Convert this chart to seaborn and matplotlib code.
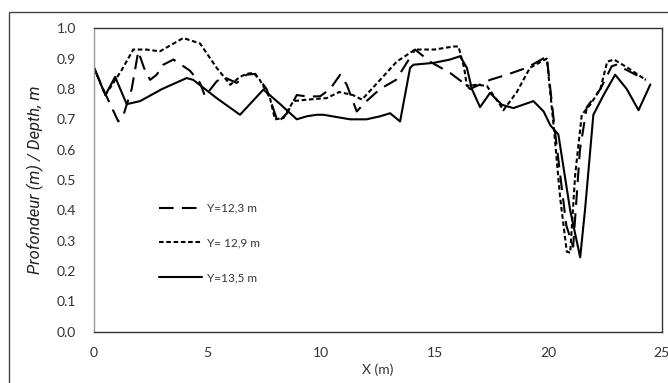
import matplotlib
matplotlib.use("Agg")
import matplotlib.pyplot as plt
import matplotlib.patches as mpatches
import seaborn as sns
import pandas as pd

# Y = 12,3 m (long dashes)
x_123 = [0, 0.48, 1.07, 1.3, 1.66, 1.95, 2.2, 2.47, 2.76, 3.05, 3.5, 4.23, 4.67, 4.89, 5.4, 5.7,
         6.28, 6.72, 7.1, 7.6, 8.1, 8.5, 8.93, 9.4, 9.96, 10.4, 10.84, 11.13, 11.57, 12.0, 12.6,
         13.3, 14.14, 14.8, 15.68, 16.27, 16.56, 17.44, 18.18, 19.06, 19.94, 20.3, 20.8, 21.1,
         21.4, 21.7, 22.3, 22.8, 23.0, 24.3]
y_123 = [0.87, 0.787, 0.693, 0.715, 0.80, 0.924, 0.87, 0.83, 0.847, 0.88, 0.897, 0.86, 0.82, 0.776,
         0.825, 0.84, 0.82, 0.847, 0.85, 0.80, 0.69, 0.72, 0.78, 0.775, 0.776, 0.80, 0.847, 0.814,
         0.726, 0.76, 0.80, 0.83, 0.93, 0.89, 0.853, 0.82, 0.80, 0.83, 0.847, 0.87, 0.907, 0.66,
         0.35, 0.28, 0.6, 0.74, 0.80, 0.875, 0.88, 0.83]

# Y = 12,9 m (short dashes)
x_129 = [0, 0.5, 1.2, 1.73, 2.3, 2.9, 3.93, 4.67, 5.4, 6.0, 6.43, 6.72, 7.02, 7.3, 7.75, 7.97,
         8.34, 8.78, 9.4, 10.25, 10.8, 11.4, 11.8, 12.6, 13.33, 14.14, 15.0, 15.83, 16.05, 16.3,
         16.42, 16.86, 17.3, 17.88, 18.03, 18.62, 19.2, 19.94, 20.24, 20.53, 20.82, 20.97, 21.19,
         21.48, 21.85, 22.3, 22.6, 22.9, 23.5, 24.3]
y_129 = [0.87, 0.78, 0.86, 0.93, 0.93, 0.924, 0.968, 0.95, 0.87, 0.814, 0.84, 0.85, 0.853, 0.83,
         0.77, 0.70, 0.704, 0.76, 0.765, 0.77, 0.79, 0.78, 0.765, 0.83, 0.89, 0.93, 0.93, 0.94,
         0.94, 0.87, 0.81, 0.814, 0.81, 0.748, 0.73, 0.79, 0.87, 0.90, 0.68, 0.44, 0.264, 0.26,
         0.517, 0.715, 0.748, 0.80, 0.89, 0.897, 0.87, 0.83]

# Y = 13,5 m (solid)
x_135 = [0, 0.5, 0.93, 1.44, 2.03, 3.0, 4.08, 4.37, 5.4, 6.43, 7.46, 8.2, 8.93, 9.37, 9.81, 10.1,
         11.28, 12.0, 12.6, 13.04, 13.48, 13.92, 14.07, 14.95, 15.68, 16.12, 16.42, 16.64, 17.0,
         17.44, 17.96, 18.47, 19.35, 19.8, 20.1, 20.45, 20.97, 21.41, 21.63, 21.99, 22.44, 22.95,
         23.46, 23.98, 24.5]
y_135 = [0.87, 0.78, 0.84, 0.75, 0.76, 0.80, 0.836, 0.83, 0.77, 0.715, 0.798, 0.75, 0.70, 0.71,
         0.715, 0.715, 0.70, 0.70, 0.71, 0.72, 0.693, 0.87, 0.88, 0.886, 0.897, 0.908, 0.87, 0.80,
         0.74, 0.787, 0.748, 0.737, 0.76, 0.726, 0.68, 0.65, 0.40, 0.245, 0.407, 0.715, 0.78,
         0.847, 0.80, 0.73, 0.815]

labels = ["Y=12,3 m", "Y= 12,9 m", "Y=13,5 m"]
x_ticks = [0, 5, 10, 15, 20, 25]
y_ticks = [0.0, 0.1, 0.2, 0.3, 0.4, 0.5, 0.6, 0.7, 0.8, 0.9, 1.0]

sns.set_theme(style="white")
plt.rcParams["font.family"] = ["Lato", "DejaVu Sans"]

fig = plt.figure(figsize=(6.68, 3.83), dpi=100)
ax = fig.add_axes([94 / 668, 1 - 331.7 / 383, (661.7 - 94) / 668, (331.7 - 28.3) / 383])

styles = [(0, (7, 4)), (0, (2.2, 1.3)), "-"]
series = [(x_123, y_123), (x_129, y_129), (x_135, y_135)]
for (xs, ys), lab, ls in zip(series, labels, styles):
    df = pd.DataFrame({"x": xs, "y": ys})
    sns.lineplot(data=df, x="x", y="y", ax=ax, sort=False, estimator=None,
                 color="black", linewidth=1.5, linestyle=ls, label=lab)

ax.set_xlim(0, 25)
ax.set_ylim(0, 1.0)
ax.set_xticks(x_ticks)
ax.set_xticklabels([str(t) for t in x_ticks])
ax.set_yticks(y_ticks)
ax.set_yticklabels([f"{t:.1f}" for t in y_ticks])
ax.tick_params(axis="both", which="both", direction="out", length=4, width=0.8,
               colors="#9a9a9a", labelcolor="#333333", labelsize=10, pad=7)
ax.tick_params(axis="y", pad=9)
ax.set_xlabel("X (m)", fontsize=10, color="#333333", labelpad=3)
ax.set_ylabel("Profondeur (m) / Depth, m", fontsize=12, color="#222222",
              fontstyle="italic", family=["Roboto", "DejaVu Sans"], labelpad=9)

for side in ["top", "right", "bottom"]:
    ax.spines[side].set_color("#333333")
    ax.spines[side].set_linewidth(1.0)
ax.spines["left"].set_color("#9a9a9a")
ax.spines["left"].set_linewidth(1.0)

leg = ax.legend(loc="upper left", bbox_to_anchor=(0.095, 0.46), frameon=False,
                fontsize=8.5, handlelength=3.7, handletextpad=0.4, labelspacing=2.0,
                labelcolor="#333333")

fig.patches.append(mpatches.Rectangle((9 / 668, -0.05), 2, 1 - 12 / 383 + 0.05,
                                      transform=fig.transFigure, fill=False,
                                      edgecolor="#444444", linewidth=1.0))

fig.savefig("out.png", dpi=100)
